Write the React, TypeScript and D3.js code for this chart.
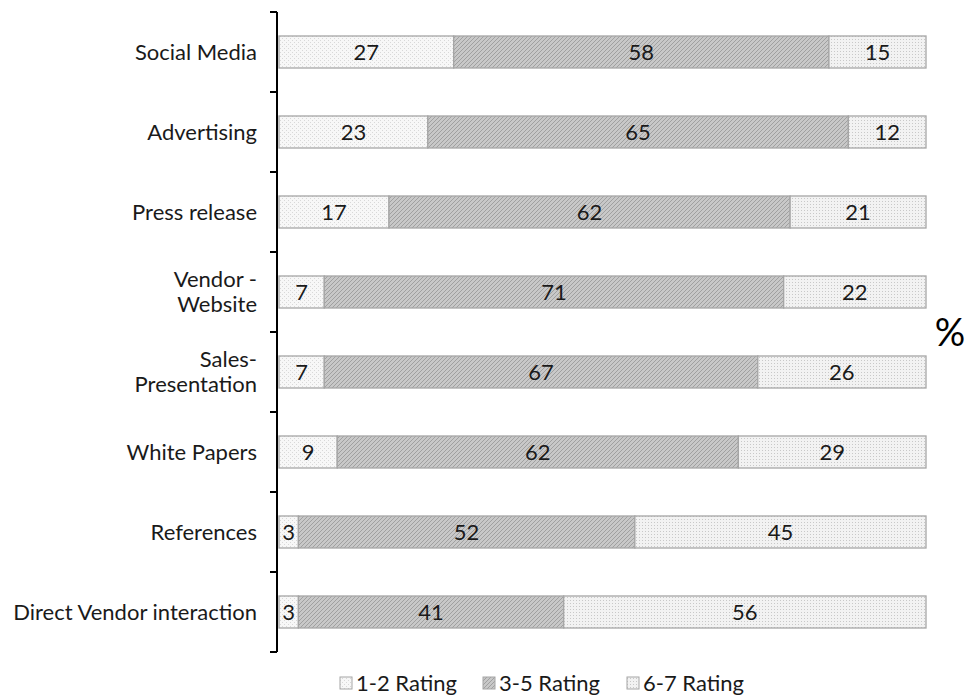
import React from "react";
import * as d3 from "d3";

const categories = [
  "Social Media",
  "Advertising",
  "Press release",
  "Vendor -\nWebsite",
  "Sales-\nPresentation",
  "White Papers",
  "References",
  "Direct Vendor interaction",
];
const seriesNames = ["1-2 Rating", "3-5 Rating", "6-7 Rating"];
const rating12 = [27, 23, 17, 7, 7, 9, 3, 3];
const rating35 = [58, 65, 62, 71, 67, 62, 52, 41];
const rating67 = [15, 12, 21, 22, 26, 29, 45, 56];

const W = 966;
const H = 695;
const FONT = "Lato, 'Open Sans', 'DejaVu Sans', sans-serif";
const FS = 22;

export default function App() {
  const x = d3.scaleLinear().domain([0, 100]).range([279, 926]);
  const y = d3.scaleBand().domain(categories).range([12, 652]).paddingInner(0.6).paddingOuter(0.3);
  const band = d3.scaleBand().domain(categories).range([12, 652]);
  const series = [rating12, rating35, rating67];
  const fills = ["url(#p12)", "url(#p35)", "url(#p67)"];
  const stack = categories.map((c, i) => {
    let acc = 0;
    return series.map((s, k) => {
      const x0 = acc;
      acc += s[i];
      return { k, x0, x1: acc, v: s[i] };
    });
  });
  const tickYs = [12, ...categories.map((c) => (band(c) as number) + band.bandwidth())];
  const legendX = [340, 483, 627];

  return (
    <svg width={W} height={H} style={{ position: "absolute", left: 0, top: 0, background: "#fff" }}>
      <defs>
        <pattern id="p12" width="4" height="4" patternUnits="userSpaceOnUse">
          <rect width="4" height="4" fill="#f7f7f7" />
          <rect x="0" y="0" width="1" height="1" fill="#d8d8d8" />
          <rect x="2" y="2" width="1" height="1" fill="#d8d8d8" />
        </pattern>
        <pattern id="p35" width="4" height="4" patternUnits="userSpaceOnUse">
          <rect width="4" height="4" fill="#c8c8c8" />
          <path d="M-1,1 l2,-2 M0,4 l4,-4 M3,5 l2,-2" stroke="#a0a0a0" strokeWidth="1" />
        </pattern>
        <pattern id="p67" width="3" height="3" patternUnits="userSpaceOnUse">
          <rect width="3" height="3" fill="#f2f2f2" />
          <rect x="0" y="0" width="1" height="1" fill="#c8c8c8" />
        </pattern>
      </defs>

      {categories.map((c, i) => {
        const by = y(c) as number;
        const bh = y.bandwidth();
        return (
          <g key={c}>
            {stack[i].map((d) => (
              <g key={d.k}>
                <rect
                  x={x(d.x0)}
                  y={by}
                  width={x(d.x1) - x(d.x0)}
                  height={bh}
                  fill={fills[d.k]}
                  stroke="#a6a6a6"
                  strokeWidth={1.3}
                />
                <text
                  x={(x(d.x0) + x(d.x1)) / 2}
                  y={by + bh / 2}
                  dy="0.35em"
                  textAnchor="middle"
                  fontFamily={FONT}
                  fontSize={FS}
                  fill="#1a1a1a"
                >
                  {d.v}
                </text>
              </g>
            ))}
          </g>
        );
      })}

      {categories.map((c) => {
        const cy = (band(c) as number) + band.bandwidth() / 2;
        const lines = c.split("\n");
        const lh = 25;
        return (
          <text
            key={c}
            x={257}
            textAnchor="end"
            fontFamily={FONT}
            fontSize={FS}
            fill="#1a1a1a"
          >
            {lines.map((l, j) => (
              <tspan key={j} x={257} y={cy + (j - (lines.length - 1) / 2) * lh} dy="0.35em">
                {l}
              </tspan>
            ))}
          </text>
        );
      })}

      <line x1={277} x2={277} y1={12} y2={652} stroke="#000" strokeWidth={2} />
      {tickYs.map((t, i) => (
        <line key={i} x1={270} x2={277} y1={t} y2={t} stroke="#000" strokeWidth={2} />
      ))}

      <text x={950} y={333} dy="0.35em" textAnchor="middle" fontFamily={FONT} fontSize={38} fill="#000">
        %
      </text>

      {seriesNames.map((s, k) => (
        <g key={s}>
          <rect x={legendX[k]} y={677} width={12} height={12} fill={fills[k]} stroke="#a6a6a6" strokeWidth={1} />
          <text x={legendX[k] + 16} y={683} dy="0.35em" fontFamily={FONT} fontSize={FS} fill="#1a1a1a">
            {s}
          </text>
        </g>
      ))}
    </svg>
  );
}
